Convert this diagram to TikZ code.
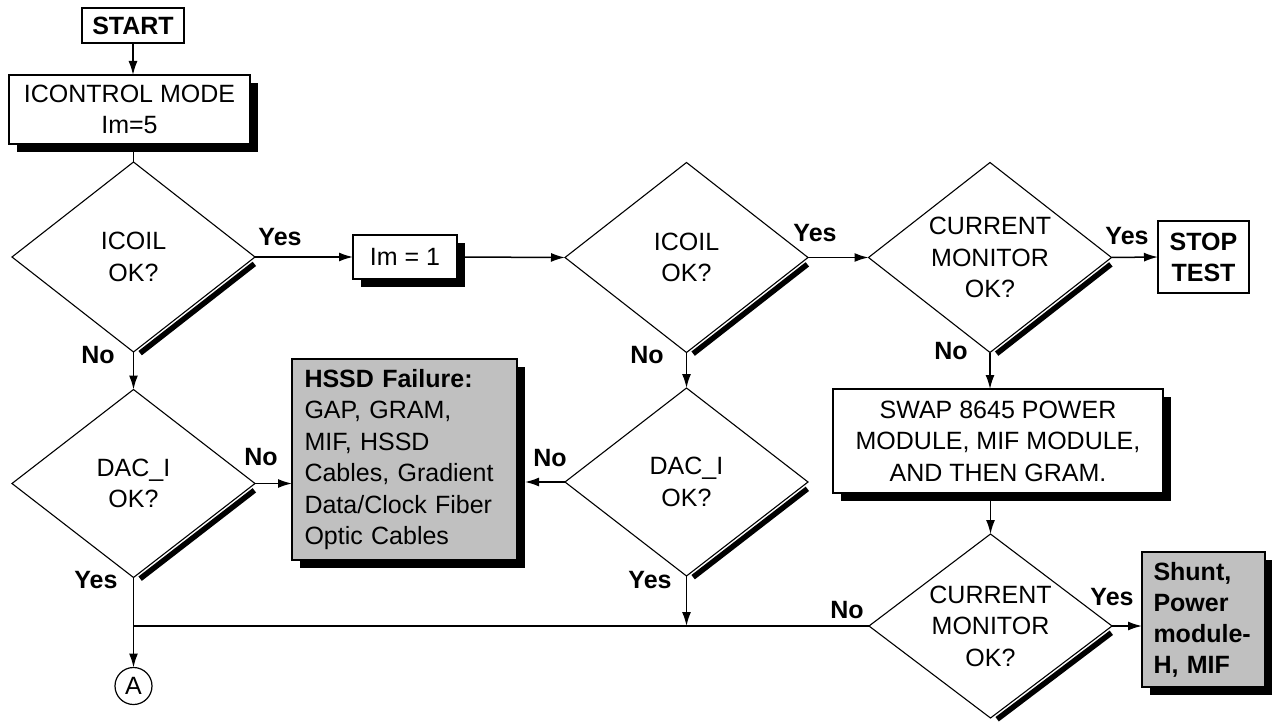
\documentclass[tikz,border=0pt]{standalone}
\usepackage{fontspec}
\setmainfont{Liberation Sans}
\usetikzlibrary{shapes.geometric,shadows,arrows.meta,calc}
\definecolor{boxgray}{HTML}{C0C0C0}
\begin{document}
\begin{tikzpicture}[x=1pt,y=-1pt,
  every node/.style={font=\fontsize{25}{31.5}\selectfont, inner sep=0pt, outer sep=0pt},
  box/.style={draw, line width=1.5pt, fill=white, align=center},
  shbox/.style={box, drop shadow={shadow xshift=8pt, shadow yshift=-8pt, opacity=1, fill=black}},
  dec/.style={draw, diamond, shape aspect=1.28, line width=1.1pt, minimum width=243pt, minimum height=190pt, align=center, fill=white},
  bold/.style={font=\fontsize{25}{31}\selectfont\bfseries},
  lab/.style={font=\fontsize{25}{28}\selectfont\bfseries},
  conn/.style={line width=1.5pt},
  arr/.style={conn, -{Latex[length=14pt,width=9pt]}},
  shadeedge/.style={line width=5.5pt},
]
\useasboundingbox (0,0) rectangle (1272,722);
\clip (0,0) rectangle (1272,722);

% nodes
\node[box, bold, minimum width=102pt, minimum height=35pt] (start) at (133,25.5) {START};
\node[shbox, minimum width=241pt, minimum height=69pt] (icm) at (129.5,109.5) {ICONTROL MODE\\Im=5};
\node[dec] (d1) at (133.5,257) {ICOIL\\OK?};
\node[shbox, minimum width=104pt, minimum height=44pt] (im1) at (405,257) {Im = 1};
\node[dec] (d2) at (686.5,257.5) {ICOIL\\OK?};
\node[dec] (d3) at (990,257.5) {CURRENT\\MONITOR\\OK?};
\node[box, bold, minimum width=91pt, minimum height=72pt] (stop) at (1203.5,257) {STOP\\TEST};
\node[dec, minimum height=188pt] (dac1) at (133.5,483.5) {DAC\_I\\OK?};
\node[dec, minimum height=188pt] (dac2) at (686.5,482) {DAC\_I\\OK?};
\node[shbox, fill=boxgray, align=left, text width=200pt, minimum width=225pt, minimum height=201pt] (hssd) at (404.5,459.5)
  {\textbf{HSSD Failure:}\\GAP, GRAM,\\MIF, HSSD\\Cables, Gradient\\Data/Clock Fiber\\Optic Cables};
\node[shbox, minimum width=330pt, minimum height=104pt] (swap) at (998,441) {SWAP 8645 POWER\\MODULE, MIF MODULE,\\AND THEN GRAM.};
\node[dec, minimum height=184pt] (d4) at (990.5,626) {CURRENT\\MONITOR\\OK?};
\node[shbox, fill=boxgray, bold, align=left, text width=100pt, minimum width=123pt, minimum height=135pt] (shunt) at (1203.5,619.5)
  {Shunt,\\Power\\module-\\H, MIF};
\node[draw, circle, line width=1.2pt, minimum size=37pt] (a) at (133.5,686) {A};

% shaded diamond edges
\foreach \d in {d1,d2,d3,dac1,dac2,d4}{
  \draw[shadeedge] ($(\d.east)!0.03!(\d.south)+(3,4)$) -- ($(\d.east)!0.97!(\d.south)+(3,4)$);
}

% connectors
\draw[arr] (start.south) -- (start.south |- icm.north);
\draw[conn] (icm.south -| d1.north) -- (d1.north);
\draw[arr] (d1.east) -- (im1.west);
\draw[arr] (im1.east) -- (d2.west);
\draw[arr] (d2.east) -- (d3.west);
\draw[arr] (d3.east) -- (stop.west);
\draw[arr] (d1.south) -- (dac1.north);
\draw[arr] (d2.south) -- (dac2.north);
\draw[arr] (d3.south) -- (d3.south |- swap.north);
\draw[arr] (swap.south -| d4.north) -- (d4.north);
\draw[arr] (d4.east) -- (d4.east -| shunt.west);
\draw[arr] (dac1.east) -- (dac1.east -| hssd.west);
\draw[arr] (dac2.west) -- ([xshift=8pt]dac2.west -| hssd.east);
\draw[arr] (dac2.south) -- (dac2.south |- d4.west);
\draw[conn] (d4.west) -- (d4.west -| dac1.south);
\draw[arr] (dac1.south) -- (a.north);

% labels
\node[lab] (l1) at (280,237) {Yes};
\node[lab] (l2) at (98,355) {No};
\node[lab] (l3) at (815,233) {Yes};
\node[lab] (l4) at (647,355) {No};
\node[lab] (l5) at (1127,236) {Yes};
\node[lab] (l6) at (951,351) {No};
\node[lab] (l7) at (261,457) {No};
\node[lab] (l8) at (96,580) {Yes};
\node[lab] (l9) at (550,458) {No};
\node[lab] (l10) at (650,580) {Yes};
\node[lab] (l11) at (847,610) {No};
\node[lab] (l12) at (1112,597) {Yes};
\end{tikzpicture}
\end{document}
